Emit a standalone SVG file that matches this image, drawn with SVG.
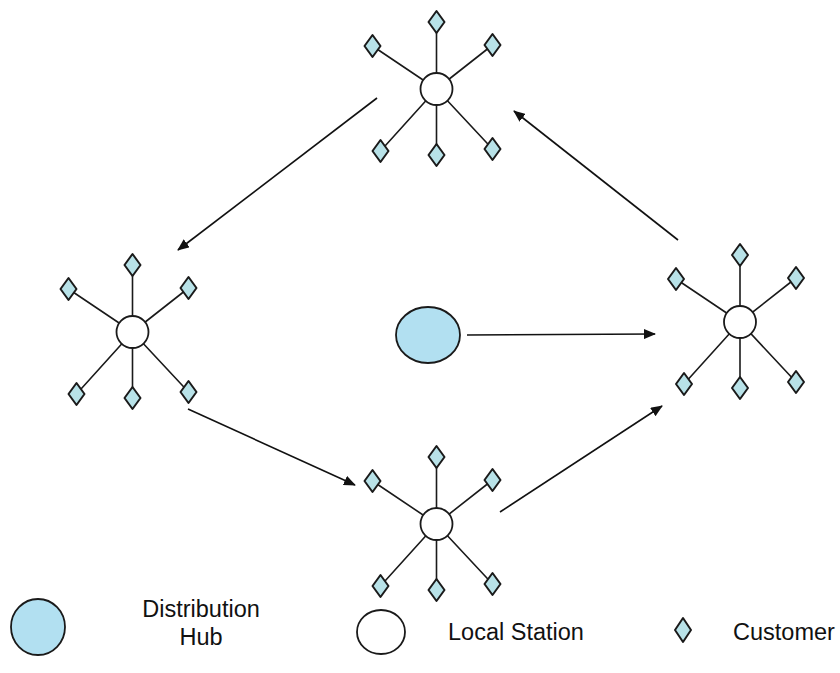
<svg xmlns="http://www.w3.org/2000/svg" xmlns:xlink="http://www.w3.org/1999/xlink" width="840" height="673" viewBox="0 0 840 673">
<style>
.spoke{stroke:#1a1a1a;stroke-width:1.6;fill:none}
.station{fill:#ffffff;stroke:#1a1a1a;stroke-width:1.8}
.cust{fill:#b8e2e8;stroke:#1a1a1a;stroke-width:2;stroke-linejoin:round}
.hub{fill:#b2e0f1;stroke:#1a1a1a;stroke-width:1.8}
.arrow{stroke:#111;stroke-width:1.6;fill:none;marker-end:url(#ah)}
.lbl{font-family:"Liberation Sans",Arial,sans-serif;font-size:23.5px;fill:#111}
</style>
<defs>
<marker id="ah" viewBox="0 0 12 10" refX="11" refY="5" markerWidth="12" markerHeight="10" markerUnits="userSpaceOnUse" orient="auto">
<path d="M0,0 L12,5 L0,10 Z" fill="#111"/>
</marker>
<path id="dm" d="M0,-11 L8,0 L0,11 L-8,0 Z"/>
</defs>
<rect width="840" height="673" fill="#ffffff"/>

<g id="connectors">
<line class="arrow" x1="377" y1="98" x2="178" y2="250"/>
<line class="arrow" x1="188" y1="409" x2="355" y2="485"/>
<line class="arrow" x1="500" y1="512" x2="662" y2="406"/>
<line class="arrow" x1="678" y1="240" x2="514" y2="111"/>
<line class="arrow" x1="467" y1="335" x2="655" y2="334"/>
</g>

<g id="station-top" transform="translate(436.5,89)">
<path class="spoke" d="M0,0 L0,-67 M0,0 L-64,-43 M0,0 L56,-44 M0,0 L-56,62 M0,0 L0,66 M0,0 L56,60"/>
<circle class="station" r="16"/>
<use href="#dm" class="cust" x="0" y="-67"/><use href="#dm" class="cust" x="-64" y="-43"/><use href="#dm" class="cust" x="56" y="-44"/>
<use href="#dm" class="cust" x="-56" y="62"/><use href="#dm" class="cust" x="0" y="66"/><use href="#dm" class="cust" x="56" y="60"/>
</g>

<g id="station-left" transform="translate(132.5,332)">
<path class="spoke" d="M0,0 L0,-67 M0,0 L-64,-43 M0,0 L56,-44 M0,0 L-56,62 M0,0 L0,66 M0,0 L56,60"/>
<circle class="station" r="16"/>
<use href="#dm" class="cust" x="0" y="-67"/><use href="#dm" class="cust" x="-64" y="-43"/><use href="#dm" class="cust" x="56" y="-44"/>
<use href="#dm" class="cust" x="-56" y="62"/><use href="#dm" class="cust" x="0" y="66"/><use href="#dm" class="cust" x="56" y="60"/>
</g>

<g id="station-right" transform="translate(740,322)">
<path class="spoke" d="M0,0 L0,-67 M0,0 L-64,-43 M0,0 L56,-44 M0,0 L-56,62 M0,0 L0,66 M0,0 L56,60"/>
<circle class="station" r="16"/>
<use href="#dm" class="cust" x="0" y="-67"/><use href="#dm" class="cust" x="-64" y="-43"/><use href="#dm" class="cust" x="56" y="-44"/>
<use href="#dm" class="cust" x="-56" y="62"/><use href="#dm" class="cust" x="0" y="66"/><use href="#dm" class="cust" x="56" y="60"/>
</g>

<g id="station-bottom" transform="translate(436.5,524)">
<path class="spoke" d="M0,0 L0,-67 M0,0 L-64,-43 M0,0 L56,-44 M0,0 L-56,62 M0,0 L0,66 M0,0 L56,60"/>
<circle class="station" r="16"/>
<use href="#dm" class="cust" x="0" y="-67"/><use href="#dm" class="cust" x="-64" y="-43"/><use href="#dm" class="cust" x="56" y="-44"/>
<use href="#dm" class="cust" x="-56" y="62"/><use href="#dm" class="cust" x="0" y="66"/><use href="#dm" class="cust" x="56" y="60"/>
</g>

<g id="hub">
<ellipse class="hub" cx="428" cy="335" rx="32" ry="28"/>
</g>

<g id="legend">
<g id="legend-hub">
<ellipse class="hub" cx="38" cy="627" rx="27" ry="28"/>
<text class="lbl" x="201" y="617" text-anchor="middle">Distribution</text>
<text class="lbl" x="201" y="645" text-anchor="middle">Hub</text>
</g>
<g id="legend-station">
<ellipse class="station" cx="381" cy="632" rx="24" ry="22"/>
<text class="lbl" x="448" y="640">Local Station</text>
</g>
<g id="legend-customer">
<path class="cust" d="M683,618 L691,630 L683,642 L675,630 Z"/>
<text class="lbl" x="733" y="640">Customer</text>
</g>
</g>
</svg>
